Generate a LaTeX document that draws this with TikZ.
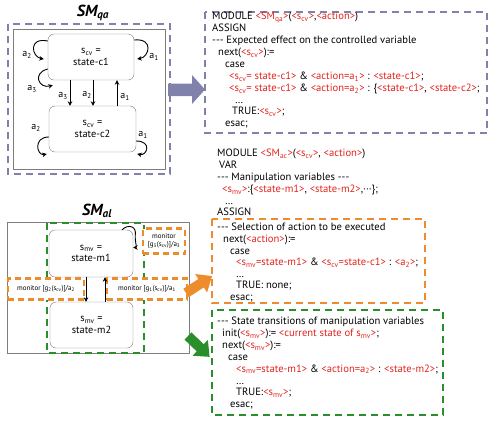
\documentclass[tikz,border=0pt]{standalone}
\usepackage{fontspec}
\setmainfont{PT Sans}
\usetikzlibrary{arrows.meta}
\definecolor{codered}{RGB}{226,36,30}
\definecolor{blueg}{RGB}{128,130,172}
\definecolor{orng}{RGB}{236,140,44}
\definecolor{grn}{RGB}{42,142,42}
\definecolor{boxgray}{RGB}{125,125,125}
\newcommand{\rd}[1]{\textcolor{codered}{#1}}
\newcommand{\sbs}[1]{\textsubscript{#1}}
\begin{document}
\begin{tikzpicture}[x=1pt,y=-1pt,
  code/.style={anchor=west, inner sep=0pt, text height=7.4pt, text depth=2.1pt,
     font=\fontsize{10.6}{12}\selectfont},
  state/.style={draw=boxgray, rounded corners=6pt, align=center, inner sep=0pt,
     fill=white, font=\fontsize{10.3}{11.5}\selectfont},
  arr/.style={-{Stealth[length=4.5pt,width=4.5pt]}, line width=0.9pt},
  lbl/.style={inner sep=0pt, font=\fontsize{10}{11}\selectfont},
  mon/.style={inner sep=0pt, align=center, font=\fontsize{7}{8}\selectfont},
  title/.style={inner sep=0pt, font=\fontsize{16}{17}\selectfont\bfseries\itshape},
  dashblue/.style={draw=blueg, line width=2.8pt, dash pattern=on 7pt off 5pt},
  dashor/.style={draw=orng, line width=2.8pt, dash pattern=on 7pt off 5pt},
  dashgr/.style={draw=grn, line width=2.8pt, dash pattern=on 7pt off 5pt}]
\useasboundingbox (0,0) rectangle (494,429);

% ---------------- SM_qa ----------------
\node[title] (tqa) at (93,13) {SM\textsubscript{qa}};
\draw[dashblue] (8,24) rectangle (170,174);
\draw[boxgray, line width=0.8pt] (13,29) rectangle (165,169);

\node[state, minimum width=86pt, minimum height=46pt] (c1) at (91,57) {s\sbs{cv} =\\state-c1};
\node[state, minimum width=87pt, minimum height=46pt] (c2) at (92.5,129) {s\sbs{cv} =\\state-c2};

\draw[arr] ([xshift=-21pt]c1.south) -- ([xshift=-21pt]c1.south |- c2.north);
\draw[arr] ([xshift=2pt]c1.south) -- ([xshift=2pt]c1.south |- c2.north);
\draw[arr] ([xshift=26pt]c1.south |- c2.north) -- ([xshift=26pt]c1.south);
\node[lbl] (la3) at (63,96) {a\sbs{3}};
\node[lbl] (la2) at (87,95) {a\sbs{2}};
\node[lbl] (la1) at (125,97) {a\sbs{1}};

% self loops of c1
\draw[arr] ([yshift=16pt]c1.west) .. controls +(-20,-4) and +(-12,-2) .. ([xshift=-4pt,yshift=-2pt]c1.west);
\node[lbl] (lc1a2) at (27,55) {a\sbs{2}};
\draw[arr] ([yshift=17pt]c1.east) .. controls +(20,-2) and +(12,-2) .. ([xshift=3pt,yshift=-2pt]c1.east);
\node[lbl] (lc1a1) at (154,57) {a\sbs{1}};
\draw[arr] ([yshift=-12pt]c1.west) .. controls +(-16,4) and +(-14,4) .. ([xshift=5pt,yshift=-5pt]c1.south west);
\node[lbl] (lc1a3) at (32,89) {a\sbs{3}};
% self loops of c2
\draw[arr] ([yshift=-8pt]c2.west) .. controls +(-16,0) and +(-10,2) .. ([xshift=-2pt,yshift=-25pt]c2.west);
\node[lbl] (lc2a2) at (36,128) {a\sbs{2}};
\draw[arr] ([yshift=-12pt]c2.east) .. controls +(16,0) and +(10,2) .. ([xshift=1pt,yshift=-25pt]c2.east);
\node[lbl] (lc2a1) at (143,135) {a\sbs{1}};

% blue block arrow
\fill[blueg] (168,83.5) -- (192,83.5) -- (192,75) -- (205,89.5) -- (192,104) -- (192,96) -- (168,96) -- cycle;

% top code box
\draw[dashblue] (205,12) rectangle (487,133);
\node[code] (q1) at (212,17) {MODULE \rd{<SM\sbs{qa}>}(\rd{<s\sbs{cv}>},\rd{<action>})};
\node[code] (q2) at (212,29) {ASSIGN};
\node[code] (q3) at (212,41) {-{}-{}- Expected effect on the controlled variable};
\node[code] (q4) at (218,53) {next(\rd{<s\sbs{cv}>}):=};
\node[code] (q5) at (225,65) {case};
\node[code] (q6) at (229,77) {\rd{<s\sbs{cv}= state-c1>} \& \rd{<action=a\sbs{1}>} : \rd{<state-c1>};};
\node[code] (q7) at (229,89) {\rd{<s\sbs{cv}= state-c1>} \& \rd{<action=a\sbs{2}>} : \{\rd{<state-c1>}, \rd{<state-c2>};};
\node[code] (q8) at (235,100.5) {…};
\node[code] (q9) at (232,112) {TRUE:\rd{<s\sbs{cv}>};};
\node[code] (q10) at (225,124) {esac;};

% middle module text
\node[code] (m1t) at (217,154) {MODULE \rd{<SM\sbs{ac}>}(\rd{<s\sbs{cv}>}, \rd{<action>})};
\node[code] (m2t) at (219,166) {VAR};
\node[code] (m3t) at (217,178) {-{}-{}- Manipulation variables -{}-{}-};
\node[code] (m4t) at (222,190) {\rd{<s\sbs{mv}>}:\{\rd{<state-m1>}, \rd{<state-m2>},···\};};
\node[code] (m5t) at (225,201.5) {…};
\node[code] (m6t) at (217,213) {ASSIGN};

% orange code box
\draw[dashor] (212,219) rectangle (425,303);
\node[code] (o1) at (217,228) {-{}-{}- Selection of action to be executed};
\node[code] (o2) at (223,240) {next(\rd{<action>}):=};
\node[code] (o3) at (230,251.5) {case};
\node[code] (o4) at (236,263) {\rd{<s\sbs{mv}=state-m1>} \& \rd{<s\sbs{cv}=state-c1>} : \rd{<a\sbs{2}>};};
\node[code] (o5) at (236,274.5) {…};
\node[code] (o6) at (236,286) {TRUE: none;};
\node[code] (o7) at (230,298) {esac;};

% green code box
\draw[dashgr] (212,310) rectangle (443,415);
\node[code] (g1) at (217,322) {-{}-{}- State transitions of manipulation variables};
\node[code] (g2) at (222,334) {init(\rd{<s\sbs{mv}>}):= \rd{<current state of s\sbs{mv}>};};
\node[code] (g3) at (222,346) {next(\rd{<s\sbs{mv}>}):=};
\node[code] (g4) at (228,358) {case};
\node[code] (g5) at (236,369.5) {\rd{<s\sbs{mv}=state-m1>} \& \rd{<action=a\sbs{2}>} : \rd{<state-m2>};};
\node[code] (g6) at (236,381.5) {…};
\node[code] (g7) at (236,393) {TRUE:\rd{<s\sbs{mv}>};};
\node[code] (g8) at (230,405) {esac;};

% ---------------- SM_al ----------------
\node[title] (tal) at (97,211) {SM\textsubscript{al}};
\draw[boxgray, line width=0.8pt] (7,222) rectangle (189,353);
\draw[dashgr] (47,223) rectangle (144,353);

\node[state, minimum width=84pt, minimum height=47pt] (s1) at (91,253.5) {s\sbs{mv} =\\state-m1};
\node[state, minimum width=83pt, minimum height=46pt] (s2) at (91.5,325) {s\sbs{mv} =\\state-m2};

\node[mon, draw=orng, fill=white, line width=2.6pt, dash pattern=on 6pt off 4pt,
      minimum width=76pt, minimum height=21pt] (mleft) at (46,289) {monitor {[}g\sbs{2}(s\sbs{cv}){]}/a\sbs{2}};
\node[mon, draw=orng, fill=white, line width=2.6pt, dash pattern=on 6pt off 4pt,
      minimum width=80pt, minimum height=21pt] (mright) at (147,289) {monitor {[}g\sbs{1}(s\sbs{cv}){]}/a\sbs{1}};
\node[mon, draw=orng, fill=white, line width=2.6pt, dash pattern=on 6pt off 4pt,
      minimum width=42pt, minimum height=25pt] (mtop) at (164,241) {monitor\\{[}g\sbs{3}(s\sbs{cv}){]}/a\sbs{3}};

\draw[arr] ([xshift=-5pt]s1.south) -- ([xshift=-5pt]s1.south |- s2.north);
\draw[arr] ([xshift=14pt]s1.south |- s2.north) -- ([xshift=14pt]s1.south);
\draw[arr] ([xshift=31pt]s1.north) .. controls +(6,-6) and +(2,-10) .. ([xshift=2pt,yshift=-6pt]s1.north east) .. controls +(0,8) and +(4,0) .. ([yshift=6pt]s1.east);

% orange and green block arrows
\begin{scope}[shift={(186,293)}, rotate=33]
  \fill[orng] (0,-5) -- (18,-5) -- (18,-11) -- (31,0) -- (18,11) -- (18,5) -- (0,5) -- cycle;
\end{scope}
\begin{scope}[shift={(188,336)}, rotate=-44]
  \fill[grn] (0,-5) -- (17,-5) -- (17,-11) -- (30,0) -- (17,11) -- (17,5) -- (0,5) -- cycle;
\end{scope}
\end{tikzpicture}
\end{document}
